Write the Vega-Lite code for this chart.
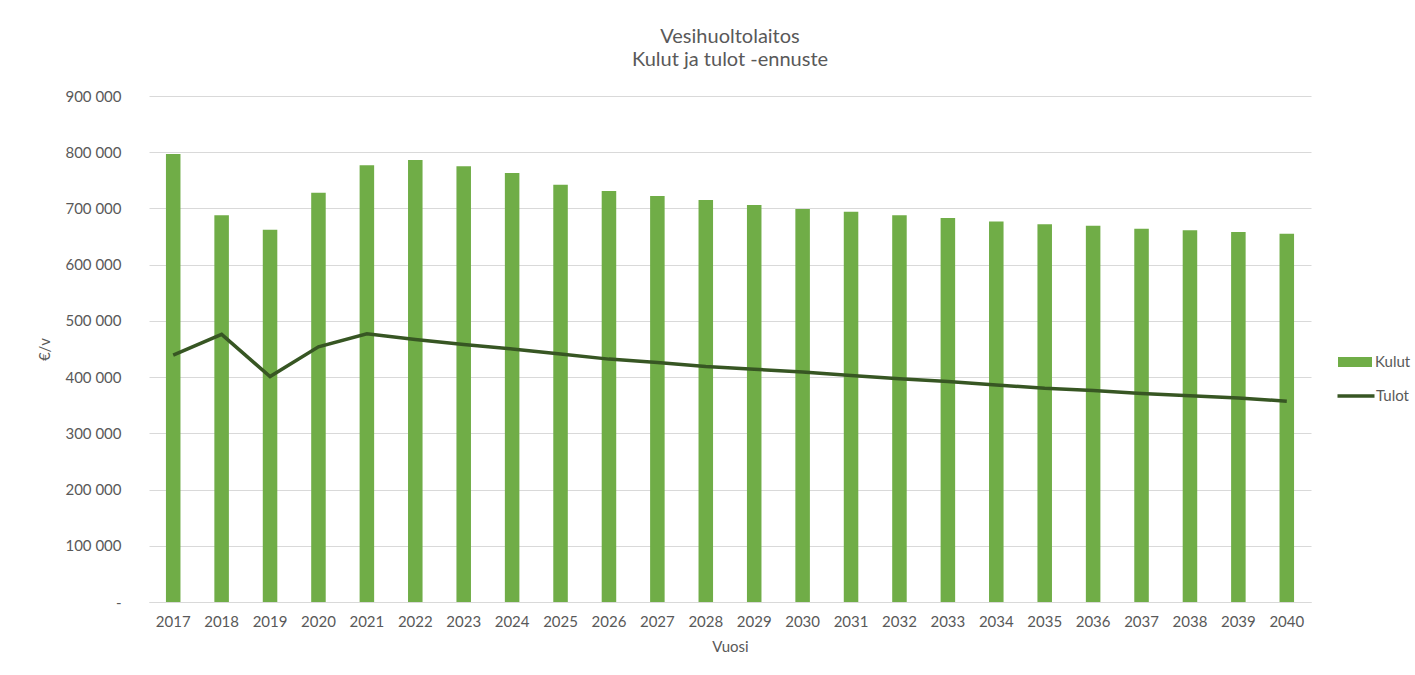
{
  "$schema": "https://vega.github.io/schema/vega-lite/v6.json",
  "autosize": {"type": "none"},
  "width": 1162,
  "height": 506,
  "padding": {"left": 149, "top": 96, "right": 104, "bottom": 73},
  "background": "white",
  "title": {
    "text": ["Vesihuoltolaitos", "Kulut ja tulot -ennuste"],
    "font": "Lato",
    "fontSize": 20,
    "fontWeight": "normal",
    "color": "#595959",
    "lineHeight": 23,
    "offset": 19,
    "anchor": "middle"
  },
  "data": {
    "values": [
      {"vuosi": "2017", "kulut": 797000, "tulot": 439000},
      {"vuosi": "2018", "kulut": 688000, "tulot": 476000},
      {"vuosi": "2019", "kulut": 662000, "tulot": 401000},
      {"vuosi": "2020", "kulut": 728000, "tulot": 454000},
      {"vuosi": "2021", "kulut": 777000, "tulot": 477000},
      {"vuosi": "2022", "kulut": 786000, "tulot": 467000},
      {"vuosi": "2023", "kulut": 775000, "tulot": 458000},
      {"vuosi": "2024", "kulut": 763000, "tulot": 450000},
      {"vuosi": "2025", "kulut": 742000, "tulot": 441000},
      {"vuosi": "2026", "kulut": 731000, "tulot": 432000},
      {"vuosi": "2027", "kulut": 722000, "tulot": 426000},
      {"vuosi": "2028", "kulut": 715000, "tulot": 419000},
      {"vuosi": "2029", "kulut": 706000, "tulot": 414000},
      {"vuosi": "2030", "kulut": 699000, "tulot": 409000},
      {"vuosi": "2031", "kulut": 694000, "tulot": 403000},
      {"vuosi": "2032", "kulut": 688000, "tulot": 397000},
      {"vuosi": "2033", "kulut": 683000, "tulot": 392000},
      {"vuosi": "2034", "kulut": 677000, "tulot": 386000},
      {"vuosi": "2035", "kulut": 672000, "tulot": 380000},
      {"vuosi": "2036", "kulut": 669000, "tulot": 376000},
      {"vuosi": "2037", "kulut": 664000, "tulot": 371000},
      {"vuosi": "2038", "kulut": 661000, "tulot": 367000},
      {"vuosi": "2039", "kulut": 658000, "tulot": 363000},
      {"vuosi": "2040", "kulut": 655000, "tulot": 357000}
    ]
  },
  "encoding": {
    "x": {
      "field": "vuosi",
      "type": "ordinal",
      "scale": {"paddingInner": 0.7, "paddingOuter": 0.35},
      "axis": {
        "title": "Vuosi",
        "labelAngle": 0,
        "ticks": false,
        "grid": false,
        "domainColor": "#D9D9D9",
        "domainWidth": 1,
        "labelFont": "Lato",
        "labelFontSize": 15,
        "labelColor": "#595959",
        "labelPadding": 12,
        "titleFont": "Lato",
        "titleFontSize": 15,
        "titleFontWeight": "normal",
        "titleColor": "#595959",
        "titlePadding": 10
      }
    }
  },
  "layer": [
    {
      "mark": {"type": "bar"},
      "encoding": {
        "y": {
          "field": "kulut",
          "type": "quantitative",
          "scale": {"domain": [0, 900000], "nice": false},
          "axis": {
            "title": "€/v",
            "values": [0, 100000, 200000, 300000, 400000, 500000, 600000, 700000, 800000, 900000],
            "labelExpr": "datum.value == 0 ? '-' : replace(format(datum.value, ','), ',', ' ')",
            "domain": false,
            "ticks": false,
            "gridColor": "#D9D9D9",
            "gridWidth": 1,
            "labelFont": "Lato",
            "labelFontSize": 15,
            "labelColor": "#595959",
            "labelPadding": 28,
            "titleFont": "Lato",
            "titleFontSize": 15,
            "titleFontWeight": "normal",
            "titleColor": "#595959",
            "titlePadding": 12
          }
        },
        "fill": {
          "datum": "Kulut",
          "type": "nominal",
          "scale": {"range": ["#70AD47"]},
          "legend": {
            "title": null,
            "orient": "none",
            "legendX": 1196,
            "legendY": 256,
            "padding": 0,
            "symbolType": "M-1.7,-0.5H1.7V0.5H-1.7Z",
            "symbolSize": 400,
            "symbolStrokeWidth": 0,
            "labelOffset": 10,
            "labelFont": "Lato",
            "labelFontSize": 15,
            "labelColor": "#595959"
          }
        }
      }
    },
    {
      "mark": {"type": "line", "strokeWidth": 3.5},
      "encoding": {
        "y": {"field": "tulot", "type": "quantitative"},
        "stroke": {
          "datum": "Tulot",
          "type": "nominal",
          "scale": {"range": ["#375623"]},
          "legend": {
            "title": null,
            "orient": "none",
            "legendX": 1195,
            "legendY": 288,
            "padding": 0,
            "symbolType": "M-1.85,0H1.85",
            "symbolSize": 400,
            "symbolStrokeWidth": 3.5,
            "labelOffset": 8,
            "labelFont": "Lato",
            "labelFontSize": 15,
            "labelColor": "#595959"
          }
        }
      }
    }
  ],
  "config": {
    "view": {"stroke": null}
  }
}
